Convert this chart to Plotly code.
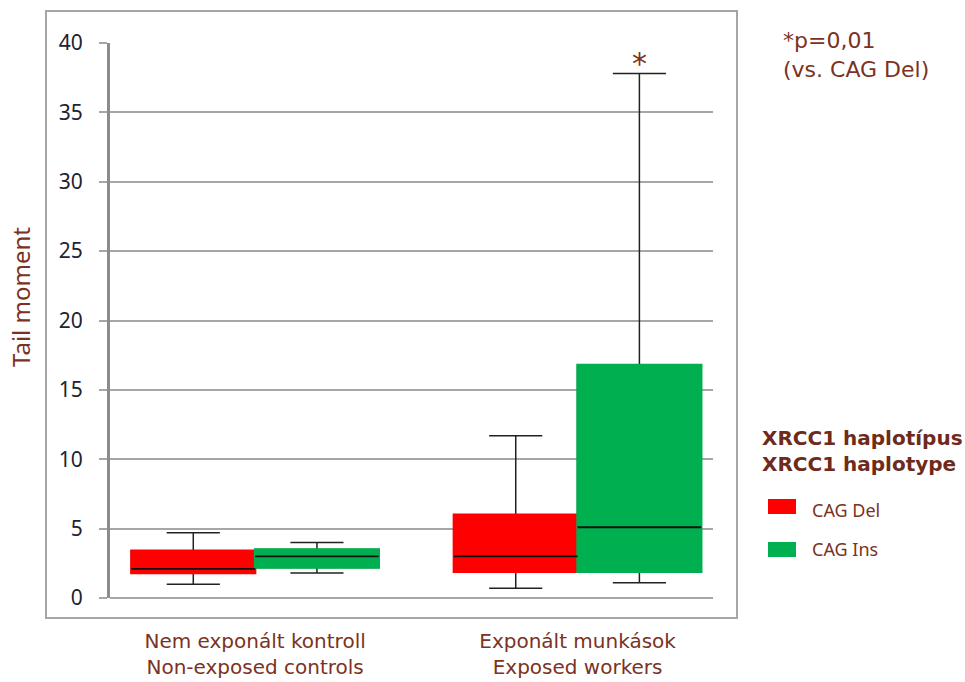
import plotly.graph_objects as go

categories = ["Nem exponált kontroll<br>Non-exposed controls",
              "Exponált munkások<br>Exposed workers"]
series_names = ["CAG Del", "CAG Ins"]
series_colors = ["#FF0000", "#00B050"]

del_q1 = [1.8, 1.9]
del_median = [2.1, 3.0]
del_q3 = [3.4, 6.0]
del_lower = [1.0, 0.7]
del_upper = [4.7, 11.7]

ins_q1 = [2.2, 1.9]
ins_median = [3.0, 5.1]
ins_q3 = [3.5, 16.8]
ins_lower = [1.8, 1.1]
ins_upper = [4.0, 37.8]

y_ticks = [0, 5, 10, 15, 20, 25, 30, 35, 40]

BROWN = "#7B3222"
DARK_BROWN = "#6E2A1A"
BOXGAP = 0.233

# plot area in pixels (for placing paper-referenced decorations)
L, R, T, B = 110, 713, 43, 598
W, H = R - L, B - T


def px(xp):
    return (xp - L) / W


def py(yp):
    return (B - yp) / H


series = [
    ("del", series_names[0], series_colors[0], del_q1, del_median, del_q3, del_lower, del_upper),
    ("ins", series_names[1], series_colors[1], ins_q1, ins_median, ins_q3, ins_lower, ins_upper),
]

fig = go.Figure()

# layer 1: whiskers (black)
for key, name, color, q1, med, q3, lo, hi in series:
    fig.add_trace(go.Box(
        x=categories, q1=q1, median=med, q3=q3, lowerfence=lo, upperfence=hi,
        orientation="v", offsetgroup=key, name=name, showlegend=False,
        line=dict(color="#222222", width=1.5), fillcolor="rgba(0,0,0,0)",
        whiskerwidth=0.43, hoverinfo="skip"))
# layer 2: filled boxes
for key, name, color, q1, med, q3, lo, hi in series:
    fig.add_trace(go.Box(
        x=categories, q1=q1, median=q1, q3=q3, lowerfence=q1, upperfence=q3,
        orientation="v", offsetgroup=key, name=name, showlegend=False,
        line=dict(color=color, width=2.5), fillcolor=color,
        whiskerwidth=0, hoverinfo="skip"))
# layer 3: median lines
for key, name, color, q1, med, q3, lo, hi in series:
    fig.add_trace(go.Box(
        x=categories, q1=med, median=med, q3=med, lowerfence=med, upperfence=med,
        orientation="v", offsetgroup=key, name=name, showlegend=False,
        line=dict(color="#111111", width=1.8), fillcolor="rgba(0,0,0,0)",
        whiskerwidth=0, hoverinfo="skip"))

# significance star above the CAG Ins whisker in exposed group
star_idx = 1
fig.add_annotation(x=star_idx + (1 - BOXGAP) / 4, y=ins_upper[star_idx], xref="x", yref="y",
                   text="*", showarrow=False, yanchor="bottom", yshift=-9,
                   font=dict(family="DejaVu Sans", size=30, color=BROWN))

fig.add_annotation(x=px(781), y=py(26), xref="paper", yref="paper",
                   text="*p=0,01<br>(vs. CAG Del)", showarrow=False, align="left",
                   xanchor="left", yanchor="top",
                   font=dict(family="DejaVu Sans", size=22, color=BROWN))

fig.add_annotation(x=px(20), y=py(297), xref="paper", yref="paper",
                   text="Tail moment", textangle=-90, showarrow=False,
                   xanchor="center", yanchor="middle",
                   font=dict(family="Noto Sans", size=24, color=BROWN))

# legend (manual)
fig.add_annotation(x=px(760), y=py(451), xref="paper", yref="paper",
                   text="<b>XRCC1 haplotípus</b><br><b>XRCC1 haplotype</b>",
                   showarrow=False, align="left", xanchor="left", yanchor="middle",
                   font=dict(family="DejaVu Sans", size=20, color=DARK_BROWN))
legend_rows = [(499, 514, 510), (542, 557, 549)]
for (name, color), (y0, y1, yt) in zip(zip(series_names, series_colors), legend_rows):
    fig.add_shape(type="rect", xref="paper", yref="paper",
                  x0=px(768), x1=px(796), y0=py(y1), y1=py(y0),
                  line=dict(width=0), fillcolor=color)
    fig.add_annotation(x=px(810), y=py(yt), xref="paper", yref="paper",
                       text=name, showarrow=False, xanchor="left", yanchor="middle",
                       font=dict(family="Noto Sans", size=18, color=BROWN))

# outer frame
fig.add_shape(type="rect", xref="paper", yref="paper",
              x0=px(46), x1=px(737), y0=py(618), y1=py(11),
              line=dict(color="#A6A6A6", width=2), layer="below")

fig.update_layout(
    width=965, height=682,
    margin=dict(l=L, r=965 - R, t=T, b=682 - B, pad=0),
    paper_bgcolor="white", plot_bgcolor="white",
    boxmode="group", boxgap=BOXGAP, boxgroupgap=0,
    showlegend=False,
    xaxis=dict(
        type="category", range=[-0.45, 1.42], showgrid=False, zeroline=False,
        showline=False, ticks="", ticklabelstandoff=29, automargin=False,
        tickfont=dict(family="DejaVu Sans", size=20, color=BROWN),
    ),
    yaxis=dict(
        range=[0, 40], tickvals=y_ticks, ticks="outside", ticklen=8,
        tickcolor="#A6A6A6", tickwidth=1.5,
        showgrid=True, gridcolor="#A6A6A6", gridwidth=1.5,
        zeroline=True, zerolinecolor="#A6A6A6", zerolinewidth=1.5,
        showline=True, linecolor="#8C8C8C", linewidth=3,
        ticklabelstandoff=12, automargin=False,
        tickfont=dict(family="Noto Sans", size=21, color="#222233"),
    ),
)

fig.write_html("out.html")
